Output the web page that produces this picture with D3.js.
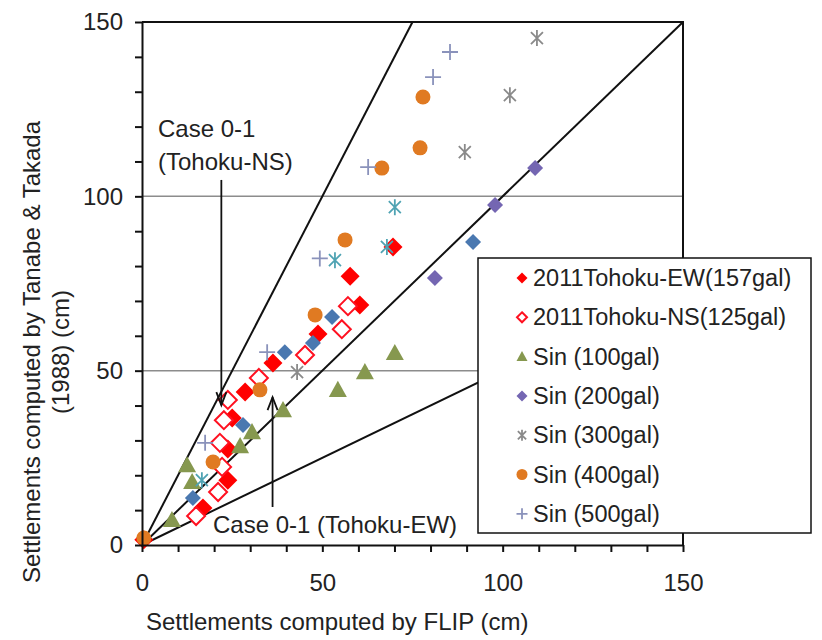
<!doctype html>
<html lang="en">
  <head>
    <meta charset="utf-8">
    <title>Settlements FLIP vs Tanabe & Takada</title>
    <style>
      body { margin: 0; background: #fff; }
      text { font-family: "Liberation Sans", Arial, sans-serif; fill: #222; }
    </style>
  </head>
  <body>
    <div id="chart"></div>
    <script src="https://cdn.jsdelivr.net/npm/d3@7"></script>
    <script>
    // values (cm)
    var tohokuEW = [[0.5,1.5],[16.9,10.6],[23.8,18.6],[23.8,27.5],[25.0,36.4],[28.6,43.9],[36.3,52.2],[48.8,60.5],[60.4,68.8],[57.7,77.1],[69.6,85.5]];
    var tohokuNS = [[15.0,8.3],[21.1,15.2],[22.2,22.4],[21.6,29.3],[22.7,35.8],[23.8,41.6],[32.4,47.9],[45.2,54.5],[55.4,61.9],[57.1,68.5]];
    var sin100 = [[8.3,7.2],[13.9,18.1],[12.5,22.9],[27.2,28.4],[30.5,32.4],[39.1,38.7],[54.3,44.5],[61.8,49.6],[70.1,55.1]];
    var sin200 = [[81.2,76.6],[97.9,97.5],[109,108.1]];
    var sin200b = [[14.1,13.5],[28.0,34.4],[39.6,55.3],[47.4,57.9],[52.7,65.4],[91.8,86.9]];
    var sin300 = [[43,49.6],[89.5,112.7],[102,129],[109.5,145.4]];
    var sin300b = [[16.6,18.6],[53.5,81.7],[67.9,85.5],[70.1,96.9]];
    var sin400 = [[0.5,2],[19.7,23.8],[32.7,44.5],[48,66],[56.3,87.5],[66.5,108.1],[77.1,113.9],[77.9,128.5]];
    var sin500 = [[17.5,29.3],[34.7,55.3],[49.3,82.2],[62.7,108.4],[80.7,134.2],[85.4,141.4]];

    var legendNames = ["2011Tohoku-EW(157gal)", "2011Tohoku-NS(125gal)", "Sin (100gal)", "Sin (200gal)", "Sin (300gal)", "Sin (400gal)", "Sin (500gal)"];
    var ratioLines = [2, 1, 0.5];
    var gridValues = [50, 100];

    var series = [
      {data: tohokuEW, shape: "diamond", color: "#ff0000", r: 9.5, legend: 0},
      {data: tohokuNS, shape: "odiamond", color: "#ff1020", r: 9, legend: 1},
      {data: sin100, shape: "triangle", color: "#86984f", r: 9, legend: 2},
      {data: sin200b, shape: "diamond", color: "#4a78b0", r: 8},
      {data: sin200, shape: "diamond", color: "#7466b2", r: 8, legend: 3},
      {data: sin300b, shape: "asterisk", color: "#4fa3b3", r: 8},
      {data: sin300, shape: "asterisk", color: "#8a8a8a", r: 8, legend: 4},
      {data: sin400, shape: "circle", color: "#e07a22", r: 7.5, legend: 5},
      {data: sin500, shape: "plus", color: "#8a92bb", r: 8, legend: 6}
    ];

    var width = 822, height = 640;
    var svg = d3.select("#chart").append("svg")
        .attr("width", width)
        .attr("height", height);

    var x = d3.scaleLinear().domain([0, 150]).range([142, 683]);
    var y = d3.scaleLinear().domain([0, 150]).range([545, 22]);

    // grid lines
    svg.selectAll(".grid").data(gridValues).join("line")
      .attr("x1", x(0)).attr("x2", x(150))
      .attr("y1", d => y(d)).attr("y2", d => y(d))
      .attr("stroke", "#8c8c8c").attr("stroke-width", 1.5);

    // frame top / right
    svg.append("path")
      .attr("d", "M" + x(0) + "," + y(150) + "H" + x(150) + "V" + y(0))
      .attr("fill", "none").attr("stroke", "#111").attr("stroke-width", 2);

    // ratio lines y = k x
    svg.selectAll(".ratio").data(ratioLines).join("line")
      .attr("x1", x(0)).attr("y1", y(0))
      .attr("x2", d => x(Math.min(150, 150 / d)))
      .attr("y2", d => y(Math.min(150, 150 * d)))
      .attr("stroke", "#111").attr("stroke-width", 2);

    function shapePath(shape, r) {
      if (shape == "diamond" || shape == "odiamond")
        return "M0," + (-r) + "L" + r + ",0L0," + r + "L" + (-r) + ",0Z";
      if (shape == "triangle")
        return "M0," + (-r) + "L" + r + "," + (r * 0.8) + "L" + (-r) + "," + (r * 0.8) + "Z";
      if (shape == "circle")
        return d3.arc()({innerRadius: 0, outerRadius: r, startAngle: 0, endAngle: 2 * Math.PI});
      if (shape == "plus")
        return "M" + (-r) + ",0H" + r + "M0," + (-r) + "V" + r;
      var a = r * 0.75;
      return "M0," + (-r) + "V" + r + "M" + (-a) + "," + (-a) + "L" + a + "," + a + "M" + (-a) + "," + a + "L" + a + "," + (-a);
    }

    function styleMark(sel, s) {
      if (s.shape == "odiamond") {
        sel.attr("fill", "#fff").attr("stroke", s.color).attr("stroke-width", 2);
      } else if (s.shape == "plus" || s.shape == "asterisk") {
        sel.attr("fill", "none").attr("stroke", s.color).attr("stroke-width", 1.8);
      } else {
        sel.attr("fill", s.color).attr("stroke", "none");
      }
    }

    series.forEach(function(s) {
      var g = svg.append("g");
      var m = g.selectAll("path").data(s.data).join("path")
        .attr("transform", d => "translate(" + x(d[0]) + "," + y(d[1]) + ")")
        .attr("d", shapePath(s.shape, s.r));
      styleMark(m, s);
    });

    // axes
    var xAxis = d3.axisBottom(x).tickValues(d3.range(0, 151, 10))
      .tickFormat(d => d % 50 == 0 ? d : "").tickSize(7).tickSizeOuter(0).tickPadding(22);
    var yAxis = d3.axisLeft(y).tickValues(d3.range(0, 151, 10))
      .tickFormat(d => d % 50 == 0 ? d : "").tickSize(7).tickSizeOuter(0).tickPadding(12);

    var gx = svg.append("g").attr("transform", "translate(0," + y(0) + ")").call(xAxis);
    var gy = svg.append("g").attr("transform", "translate(" + x(0) + ",0)").call(yAxis);
    [gx, gy].forEach(function(g) {
      g.selectAll("path, line").attr("stroke", "#111").attr("stroke-width", 2);
      g.selectAll("text").style("font-size", "24px").attr("fill", "#222")
        .style("font-family", "'Liberation Sans', Arial, sans-serif");
    });

    // axis titles
    svg.append("text").attr("x", 146).attr("y", 630)
      .style("font-size", "24px").text("Settlements computed by FLIP (cm)");
    var yt = svg.append("text").attr("transform", "translate(40,352) rotate(-90)")
      .attr("text-anchor", "middle").style("font-size", "24px");
    yt.append("tspan").attr("x", 0).attr("y", 0).text("Settlements computed by Tanabe & Takada");
    yt.append("tspan").attr("x", 0).attr("y", 29).text("(1988) (cm)");

    // annotations
    function arrow(xv, y1, y2) {
      var px = x(xv), a = y(y1), b = y(y2), dir = b > a ? -1 : 1;
      svg.append("line").attr("x1", px).attr("x2", px).attr("y1", a).attr("y2", b)
        .attr("stroke", "#111").attr("stroke-width", 1.8);
      svg.append("path")
        .attr("d", "M" + (px - 5) + "," + (b + dir * 13) + "L" + px + "," + b + "L" + (px + 5) + "," + (b + dir * 13))
        .attr("fill", "none").attr("stroke", "#111").attr("stroke-width", 1.8);
    }
    arrow(22, 104.7, 40.1);
    arrow(36.2, 10.9, 42.4);

    var ns = svg.append("text").style("font-size", "24px");
    ns.append("tspan").attr("x", 158).attr("y", 137).text("Case 0-1");
    ns.append("tspan").attr("x", 158).attr("y", 170).text("(Tohoku-NS)");
    svg.append("text").attr("x", 213).attr("y", 533).style("font-size", "24px")
      .text("Case 0-1 (Tohoku-EW)");

    // legend
    var lg = svg.append("g").attr("transform", "translate(478,258)");
    lg.append("rect").attr("width", 333).attr("height", 275)
      .attr("fill", "#fff").attr("stroke", "#111").attr("stroke-width", 1.5);
    series.filter(s => s.legend != null).forEach(function(s) {
      var row = lg.append("g").attr("transform", "translate(0," + (20 + s.legend * 39.3) + ")");
      var mk = row.append("path").attr("transform", "translate(44,0)")
        .attr("d", shapePath(s.shape, s.shape == "odiamond" ? 5 : 5.5));
      styleMark(mk, s);
      row.append("text").attr("x", 55).attr("y", 8).style("font-size", "23.5px")
        .text(legendNames[s.legend]);
    });
    </script>
  </body>
</html>
